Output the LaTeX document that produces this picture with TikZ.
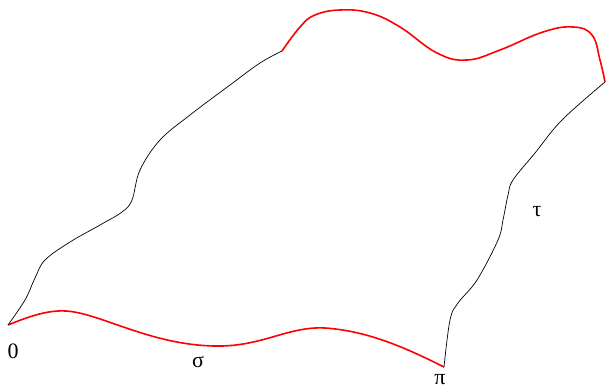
\documentclass[tikz,border=0pt]{standalone}
\usepackage{fontspec}
\setmainfont{Liberation Serif}
\begin{document}
\begin{tikzpicture}[
    x=1pt, y=-1pt,
    redside/.style={red, line width=1.6pt},
    blackside/.style={black, line width=0.7pt},
    tag/.style={font=\fontsize{22}{26}\selectfont, inner sep=0pt}
]
\useasboundingbox (0,0) rectangle (607,389);

% Corners
\coordinate (o) at (8,325);
\coordinate (p) at (444,367);
\coordinate (q) at (605,82);
\coordinate (r) at (282,51);

% Sides
\draw[redside] (o) .. controls (30,316) and (48,310) .. (66,311)
    .. controls (100,313) and (150,345) .. (215,346)
    .. controls (262,347) and (288,326) .. (325,328)
    .. controls (370,331) and (410,350) .. (p);
\draw[blackside] plot[smooth, tension=0.6] coordinates {(p) (450,320) (458,303) (477,280) (498,240) (503,220) (508,195) (513,180) (535,153) (562,120) (q)};
\draw[redside] plot[smooth, tension=0.7] coordinates {(q) (600,60) (592,35) (573,27) (543,32) (500,50) (467,60) (437,53) (400,27) (370,13) (340,10) (315,15) (300,27) (r)};
\draw[blackside] plot[smooth, tension=0.6] coordinates {(r) (260,63) (230,85) (190,115) (160,140) (140,170) (132,200) (122,212) (100,225) (70,242) (45,260) (35,278) (25,300) (o)};

% Labels
\node[tag] (zero) at (13,351) {0};
\node[tag] (sigma) at (198,362) {σ};
\node[tag] (pi) at (440,380) {π};
\node[tag] (tau) at (537,212) {τ};
\end{tikzpicture}
\end{document}
